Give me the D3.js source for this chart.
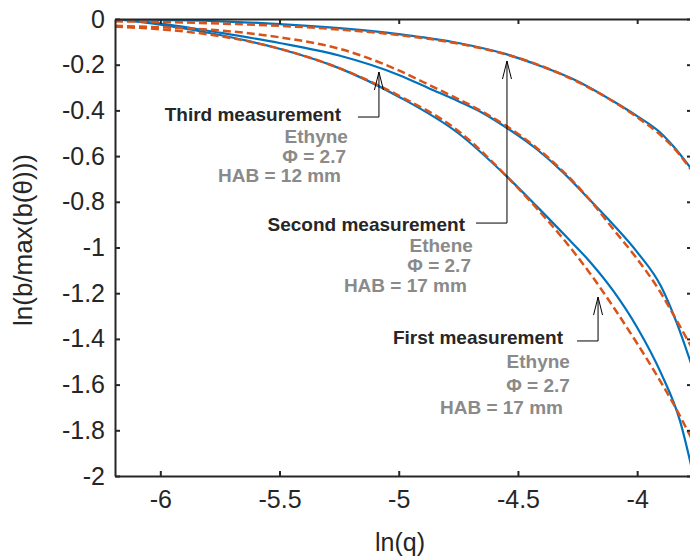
<!DOCTYPE html>
<html>
<head>
<meta charset="utf-8">
<script src="https://cdn.jsdelivr.net/npm/d3@7"></script>
<style>
  body { margin: 0; background: #fff; }
  svg { font-family: "Liberation Sans", Arial, sans-serif; }
</style>
</head>
<body>
<div id="chart"></div>
<script>
// ---- data ----
const xTicks = [-6, -5.5, -5, -4.5, -4];
const yTicks = [0, -0.2, -0.4, -0.6, -0.8, -1, -1.2, -1.4, -1.6, -1.8, -2];

// top pair: second measurement (ethene, HAB 17 mm)
const secondQ    = [-6.19, -6.0, -5.75, -5.5, -5.25, -5.0, -4.75, -4.546, -4.42, -4.25, -4.1, -4.0, -3.9, -3.85, -3.77];
const secondMeas = [0, -0.004, -0.01, -0.022, -0.04, -0.066, -0.105, -0.155, -0.2, -0.272, -0.36, -0.425, -0.5, -0.555, -0.66];
const secondFitQ = [-6.19, -6.0, -5.75, -5.5, -5.25, -5.0, -4.75, -4.5, -4.25, -4.0, -3.9, -3.85, -3.77];
const secondFit  = [-0.01, -0.013, -0.02, -0.03, -0.046, -0.07, -0.108, -0.17, -0.275, -0.43, -0.51, -0.56, -0.665];

// middle pair: third measurement (ethyne, HAB 12 mm)
const thirdQ    = [-6.19, -6.0, -5.75, -5.5, -5.25, -5.0, -4.87, -4.75, -4.65, -4.546, -4.421, -4.312, -4.2, -4.1, -4.0, -3.9, -3.834, -3.77];
const thirdMeas = [0, -0.02, -0.06, -0.105, -0.16, -0.245, -0.305, -0.36, -0.41, -0.477, -0.57, -0.67, -0.79, -0.9, -1.02, -1.17, -1.33, -1.52];
const thirdFitQ = [-6.19, -6.0, -5.75, -5.5, -5.25, -5.0, -4.87, -4.65, -4.546, -4.42, -4.2, -4.1, -4.0, -3.9, -3.85, -3.77];
const thirdFit  = [-0.03, -0.036, -0.05, -0.08, -0.13, -0.225, -0.29, -0.405, -0.47, -0.565, -0.79, -0.92, -1.05, -1.2, -1.29, -1.44];

// bottom pair: first measurement (ethyne, HAB 17 mm)
const firstQ    = [-6.19, -6.0, -5.75, -5.5, -5.25, -5.0, -4.75, -4.546, -4.421, -4.3, -4.2, -4.1, -4.0, -3.9, -3.82, -3.77];
const firstMeas = [0, -0.025, -0.07, -0.13, -0.215, -0.34, -0.5, -0.69, -0.82, -0.95, -1.06, -1.19, -1.35, -1.55, -1.76, -1.97];
const firstFitQ = [-6.19, -6.0, -5.75, -5.5, -5.25, -5.0, -4.75, -4.546, -4.42, -4.3, -4.2, -4.1, -4.0, -3.9, -3.85, -3.77];
const firstFit  = [-0.034, -0.045, -0.075, -0.13, -0.215, -0.335, -0.49, -0.69, -0.83, -0.975, -1.11, -1.26, -1.42, -1.59, -1.68, -1.84];

const annoTitles = ["Third measurement", "Second measurement", "First measurement"];
const annoFuels  = ["Ethyne", "Ethene", "Ethyne"];
const annoPhi    = ["\u03A6 = 2.7", "\u03A6 = 2.7", "\u03A6 = 2.7"];
const annoHab    = ["HAB = 12 mm", "HAB = 17 mm", "HAB = 17 mm"];

// ---- layout ----
const W = 690, H = 560;
const L = 115, R = 692, T = 19, B = 476;
const BLUE = "#0072BD", ORANGE = "#D95319", INK = "#262626", GREY = "#8a8a8a";

const x = d3.scaleLinear().domain([-6.19, -3.77]).range([L, R]);
const y = d3.scaleLinear().domain([-2, 0]).range([B, T]);

const svg = d3.select("#chart").append("svg")
  .attr("width", W).attr("height", H);

svg.append("defs").append("clipPath").attr("id", "plotclip")
  .append("rect").attr("x", L).attr("y", T).attr("width", R - L).attr("height", B - T);

// curves
const line = d3.line().x(d => x(d[0])).y(d => y(d[1])).curve(d3.curveMonotoneX);
const zip = (a, b) => a.map((v, i) => [v, b[i]]);

const curves = svg.append("g").attr("clip-path", "url(#plotclip)");
[[secondQ, secondMeas], [thirdQ, thirdMeas], [firstQ, firstMeas]].forEach(s => {
  curves.append("path").datum(zip(s[0], s[1]))
    .attr("d", line).attr("fill", "none")
    .attr("stroke", BLUE).attr("stroke-width", 2.2);
});
[[secondFitQ, secondFit], [thirdFitQ, thirdFit], [firstFitQ, firstFit]].forEach(s => {
  curves.append("path").datum(zip(s[0], s[1]))
    .attr("d", line).attr("fill", "none")
    .attr("stroke", ORANGE).attr("stroke-width", 2.5)
    .attr("stroke-dasharray", "8,4");
});

// axes (box with inward ticks)
function styleAxis(g) {
  g.select(".domain").attr("stroke", INK).attr("stroke-width", 2);
  g.selectAll(".tick line").attr("stroke", INK).attr("stroke-width", 2);
  g.selectAll(".tick text").attr("fill", INK).attr("font-size", 25)
    .attr("font-family", "Liberation Sans, Arial, sans-serif");
}
svg.append("g").attr("transform", `translate(0,${B})`)
  .call(d3.axisBottom(x).tickValues(xTicks).tickFormat(d => String(d)).tickSizeInner(-5).tickSizeOuter(0).tickPadding(14))
  .call(styleAxis);
svg.append("g").attr("transform", `translate(0,${T})`)
  .call(d3.axisTop(x).tickValues(xTicks).tickFormat("").tickSizeInner(-5).tickSizeOuter(0))
  .call(styleAxis);
svg.append("g").attr("transform", `translate(${L},0)`)
  .call(d3.axisLeft(y).tickValues(yTicks).tickFormat(d => String(d)).tickSizeInner(-5).tickSizeOuter(0).tickPadding(10))
  .call(styleAxis);
svg.append("g").attr("transform", `translate(${R},0)`)
  .call(d3.axisRight(y).tickValues(yTicks).tickFormat("").tickSizeInner(-5).tickSizeOuter(0))
  .call(styleAxis);

// axis labels
svg.append("text").attr("x", 400).attr("y", 551)
  .attr("text-anchor", "middle").attr("font-size", 25).attr("fill", INK)
  .text("ln(q)");
svg.append("text").attr("transform", "translate(32,240) rotate(-90)")
  .attr("text-anchor", "middle").attr("font-size", 26).attr("fill", INK)
  .text("ln(b/max(b(\u03B8)))");

// annotations, positioned in data units
const annos = [
  { tip: [-5.083, -0.232], elbowY: -0.429, lineX: -5.171, titleX: -5.242, titleY: -0.446,
    ends: [-5.213, -5.221, -5.242], rows: [-0.543, -0.630, -0.713] },
  { tip: [-4.546, -0.184], elbowY: -0.893, lineX: -4.676, titleX: -4.722, titleY: -0.928,
    ends: [-4.689, -4.697, -4.714], rows: [-1.020, -1.107, -1.195] },
  { tip: [-4.164, -1.217], elbowY: -1.409, lineX: -4.252, titleX: -4.311, titleY: -1.422,
    ends: [-4.282, -4.282, -4.311], rows: [-1.527, -1.632, -1.729] }
];

const ag = svg.append("g");
annos.forEach((a, i) => {
  const tx = x(a.tip[0]), ty = y(a.tip[1]);
  ag.append("path")
    .attr("d", `M${x(a.lineX)},${y(a.elbowY)}H${tx}V${ty}`)
    .attr("fill", "none").attr("stroke", "#000").attr("stroke-width", 1);
  ag.append("path")
    .attr("d", `M${tx - 4.5},${ty + 18}L${tx},${ty}L${tx + 4.5},${ty + 18}`)
    .attr("fill", "none").attr("stroke", "#000").attr("stroke-width", 1);

  ag.append("text").attr("x", x(a.titleX)).attr("y", y(a.titleY))
    .attr("text-anchor", "end").attr("font-size", 19).attr("font-weight", "bold")
    .attr("fill", INK).text(annoTitles[i]);
  [annoFuels[i], annoPhi[i], annoHab[i]].forEach((t, j) => {
    ag.append("text").attr("x", x(a.ends[j])).attr("y", y(a.rows[j]))
      .attr("text-anchor", "end").attr("font-size", 19).attr("font-weight", "bold")
      .attr("fill", GREY).text(t);
  });
});
</script>
</body>
</html>
